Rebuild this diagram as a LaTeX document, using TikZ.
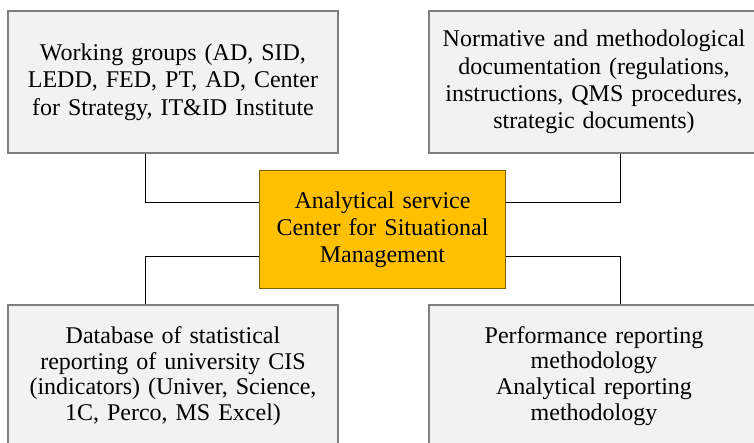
\documentclass[tikz,border=0pt]{standalone}
\usepackage{fontspec}
\setmainfont{Liberation Serif}
\usetikzlibrary{positioning,calc}
\definecolor{boxgray}{HTML}{F2F2F2}
\definecolor{boxedge}{HTML}{7F7F7F}
\definecolor{hubfill}{HTML}{FFC000}
\definecolor{hubedge}{HTML}{7F6000}
\tikzset{
	infobox/.style={draw=boxedge, fill=boxgray, line width=0.9pt, inner sep=0pt,
		minimum width=247.5pt, minimum height=106.5pt, text width=240pt, align=center,
		font=\fontsize{18}{20.6}\selectfont},
	lowbox/.style={infobox, font=\fontsize{18}{19.3}\selectfont},
	hub/.style={infobox, fill=hubfill, draw=hubedge, minimum width=184.5pt,
		minimum height=88.5pt, text width=180pt, font=\fontsize{18}{20.3}\selectfont},
	link/.style={draw, line width=0.75pt}
}
\begin{document}
\begin{tikzpicture}[x=0.75pt,y=-0.75pt]
	\useasboundingbox (0,0) rectangle (754,443);
	\clip (0,0) rectangle (754,443);
	\node[hub] (hub) at (382.5,229.5) {Analytical service\\Center for Situational\\Management};
	\node[infobox] (work) at (173,82) {Working groups (AD, SID,\\LEDD, FED, PT, AD, Center\\for Strategy, IT\&ID Institute};
	\node[infobox] (norm) at (594,82) {Normative and methodological\\documentation (regulations,\\instructions, QMS procedures,\\strategic documents)};
	\node[lowbox] (base) at (173,376) {Database of statistical\\reporting of university CIS\\(indicators) (Univer, Science,\\1C, Perco, MS Excel)};
	\node[lowbox] (rep) at (594,376) {Performance reporting\\methodology\\Analytical reporting\\methodology};
	\foreach \src/\a/\dx/\side/\t in {work/south/-28/west/0.275, norm/south/26/east/0.275,
		base/north/-28/west/0.725, rep/north/26/east/0.725}
		\draw[link] ($(\src.\a)+(\dx,0)$) |- ($(hub.north \side)!\t!(hub.south \side)$);
\end{tikzpicture}
\end{document}
